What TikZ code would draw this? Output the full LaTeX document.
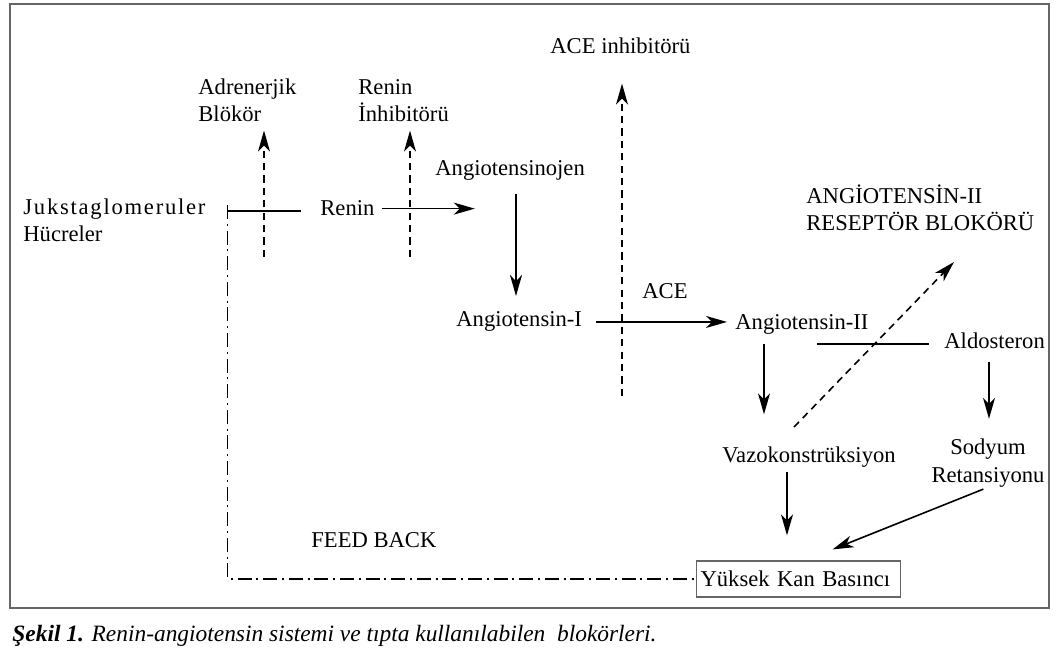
\documentclass[tikz,border=0pt]{standalone}
\usepackage{fontspec}
\setmainfont{Liberation Serif}
\usetikzlibrary{arrows.meta}

\begin{document}
\begin{tikzpicture}[x=0.5pt, y=-0.5pt,
		txt/.style={inner sep=0pt, align=left, font=\fontsize{11.3}{13.75}\selectfont},
		plain/.style={line width=0.8pt},
		arr/.style={plain, -{Stealth[length=10.5pt, width=6pt, inset=3pt]}},
		dasharr/.style={arr, dash pattern=on 3.6pt off 2.6pt},
		feedline/.style={plain, dash pattern=on 7pt off 2.4pt on 1pt off 2.4pt}]
	\useasboundingbox (0,0) rectangle (1062,658);
	\draw[gray!80!black, line width=0.8pt] (10,4) rectangle (1049,608);

	% labels (two-line nodes sit on the baseline of their last line)
	\node[txt, anchor=base west] (jg) at (23,242) {{\addfontfeature{LetterSpace=7.8}Jukstaglomeruler}\\Hücreler};
	\node[txt, anchor=base west] (adr) at (198,122) {Adrenerjik\\Blökör};
	\node[txt, anchor=base west] (rinh) at (358,122) {Renin\\İnhibitörü};
	\node[txt, anchor=base west] (renin) at (320,216) {Renin};
	\node[txt, anchor=base west] (agtn) at (435,176) {Angiotensinojen};
	\node[txt, anchor=base west] (aceinh) at (550,54) {ACE inhibitörü};
	\node[txt, anchor=base west] (arb) at (806,231) {ANGİOTENSİN-II\\RESEPTÖR BLOKÖRÜ};
	\node[txt, anchor=base west] (ace) at (642,299) {ACE};
	\node[txt, anchor=base west] (ang1) at (456,327) {Angiotensin-I};
	\node[txt, anchor=base west] (ang2) at (735,329) {Angiotensin-II};
	\node[txt, anchor=base west] (ald) at (944,349) {Aldosteron};
	\node[txt, anchor=base west] (vazo) at (722,462) {Vazokonstrüksiyon};
	\node[txt, align=center, anchor=base] (sod) at (988,482) {Sodyum\\Retansiyonu};
	\node[txt, anchor=base west] (feed) at (311,547) {FEED BACK};
	\node[txt, draw=gray!80!black, line width=0.6pt, anchor=west, inner xsep=2pt,
		text width=98pt, minimum height=18pt] (ykb) at (696,579) {Yüksek Kan Basıncı};
	\node[txt, font=\fontsize{11.7}{14}\selectfont, anchor=base west] (cap) at (12,641)
		{\textbf{\textit{Şekil 1.}} \textit{Renin-angiotensin sistemi ve tıpta kullanılabilen\ \ blokörleri.}};

	% free ends
	\coordinate (jgbar) at (227.6,211);
	\coordinate (fbtop) at (227.6,205);
	\coordinate (adrfoot) at (264,257);
	\coordinate (rinhfoot) at (410,257);
	\coordinate (agtnfoot) at (516,194);
	\coordinate (acefoot) at (622,396);
	\coordinate (arbfoot) at (794,427);
	\coordinate (arbtip) at (954,262);
	\coordinate (aldbar) at (817,344);
	\coordinate (ang2foot) at (764,344);
	\coordinate (aldfoot) at (989,362);
	\coordinate (vazofoot) at (787,472);

	% connectors
	\draw[plain, shorten >=9.7pt] (jgbar) -- (jgbar -| renin.west);
	\draw[feedline] (fbtop) -- (fbtop |- ykb.west) -- (ykb.west);
	\draw[dasharr, shorten >=4pt] (adrfoot) -- (adrfoot |- adr.south);
	\draw[dasharr, shorten >=4pt] (rinhfoot) -- (rinhfoot |- rinh.south);
	\draw[arr, shorten <=3.5pt] (renin.east) -- +(100,0);
	\draw[arr, shorten >=7.8pt] (agtnfoot) -- (agtnfoot |- ang1.north);
	\draw[dasharr, shorten >=14.5pt] (acefoot) -- (acefoot |- aceinh.south);
	\draw[arr, shorten <=6.75pt, shorten >=4pt] (ang1.east) -- (ang1.east -| ang2.west);
	\draw[dasharr] (arbfoot) -- (arbtip);
	\draw[plain, shorten >=7.5pt] (aldbar) -- (aldbar -| ald.west);
	\draw[arr, shorten >=15.8pt] (ang2foot) -- (ang2foot |- vazo.north);
	\draw[arr, shorten >=9.8pt] (aldfoot) -- (aldfoot |- sod.north);
	\draw[arr, shorten >=12.5pt] (vazofoot) -- (vazofoot |- ykb.north);
	\draw[arr, shorten <=2.5pt] (sod.south) -- ([xshift=17pt, yshift=5.5pt]ykb.north);
\end{tikzpicture}
\end{document}
